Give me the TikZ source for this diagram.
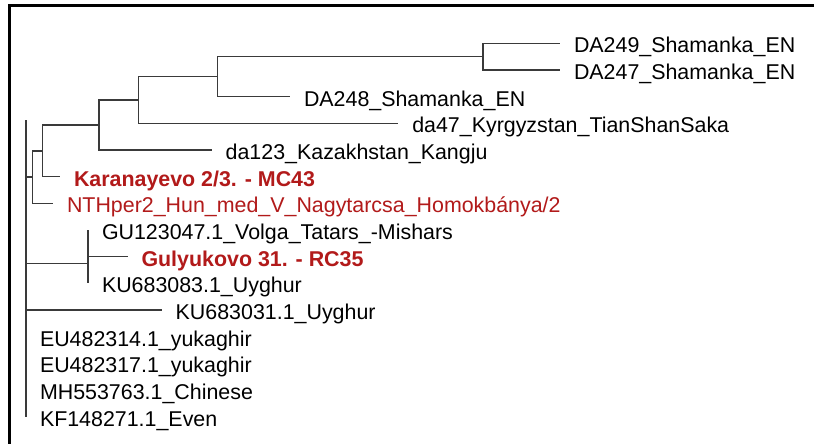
\documentclass[tikz,border=0pt]{standalone}
\usepackage{fontspec}
\setmainfont{Liberation Sans}
\definecolor{hred}{RGB}{178,26,26}
\definecolor{tline}{RGB}{58,58,58}
\begin{document}
\begin{tikzpicture}[x=1pt,y=-1pt,
  br/.style={draw=tline,line width=1.4pt},
  lab/.style={anchor=base west,inner sep=0pt,outer sep=0pt,font=\fontsize{21.4}{24}\selectfont,xshift=14pt,yshift=-9.4pt},
  hl/.style={lab,text=hred},
  hb/.style={lab,text=hred,font=\fontsize{21.4}{24}\selectfont\bfseries}]
\useasboundingbox (0,0) rectangle (814,444);
\fill[white] (0,0) rectangle (814,444);
\draw[line width=3.6pt,line join=miter] (9.5,444) -- (9.5,5.5) -- (814,5.5);
% leaf branch ends
\coordinate (e0) at (560,43.3);
\coordinate (e1) at (560,70);
\coordinate (e2) at (290,96.7);
\coordinate (e3) at (398.3,123.3);
\coordinate (e4) at (211.7,150);
\coordinate (e5) at (60,176.7);
\coordinate (e6) at (53,203.3);
\coordinate (e7) at (88,230);
\coordinate (e8) at (127.5,256.7);
\coordinate (e9) at (88,283.3);
\coordinate (e10) at (161.7,310);
\coordinate (e11) at (26,336.7);
\coordinate (e12) at (26,363.3);
\coordinate (e13) at (26,390);
\coordinate (e14) at (26,416.7);
% internal nodes
\coordinate (nS) at (483,56.7);
\coordinate (nD) at (217.3,76.7);
\coordinate (nK) at (138.3,100);
\coordinate (nC) at (99,125);
\coordinate (nM) at (42.7,150.8);
\coordinate (nA) at (32.3,177);
\coordinate (nP) at (88,263.3);
\coordinate (rtop) at (26,120);
% edges
\draw[br] (rtop) -- (e14);
\draw[br] (nS) |- (e0);
\draw[br] (nS) |- (e1);
\draw[br] (nD) |- (nS);
\draw[br] (nD) |- (e2);
\draw[br] (nK) |- (nD);
\draw[br] (nK) |- (e3);
\draw[br] (nC) |- (nK);
\draw[br] (nC) |- (e4);
\draw[br] (nM) |- (nC);
\draw[br] (nM) |- (e5);
\draw[br] (nA) |- (nM);
\draw[br] (nA) |- (e6);
\draw[br] (rtop |- nA) -- (nA);
\draw[br] (nP) |- (e7);
\draw[br] (nP) |- (e8);
\draw[br] (nP) |- (e9);
\draw[br] (rtop |- nP) -- (nP);
\draw[br] (rtop |- e10) -- (e10);
% labels
\node[lab] (t0) at (e0) {DA249\_Shamanka\_EN};
\node[lab] (t1) at (e1) {DA247\_Shamanka\_EN};
\node[lab] (t2) at (e2) {DA248\_Shamanka\_EN};
\node[lab] (t3) at (e3) {da47\_Kyrgyzstan\_TianShanSaka};
\node[lab] (t4) at (e4) {da123\_Kazakhstan\_Kangju};
\node[hb] (t5) at (e5) {Karanayevo 2/3. - MC43};
\node[hl] (t6) at (e6) {NTHper2\_Hun\_med\_V\_Nagytarcsa\_Homokbánya/2};
\node[lab] (t7) at (e7) {GU123047.1\_Volga\_Tatars\_-Mishars};
\node[hb] (t8) at (e8) {Gulyukovo 31. - RC35};
\node[lab] (t9) at (e9) {KU683083.1\_Uyghur};
\node[lab] (t10) at (e10) {KU683031.1\_Uyghur};
\node[lab] (t11) at (e11) {EU482314.1\_yukaghir};
\node[lab] (t12) at (e12) {EU482317.1\_yukaghir};
\node[lab] (t13) at (e13) {MH553763.1\_Chinese};
\node[lab] (t14) at (e14) {KF148271.1\_Even};
\end{tikzpicture}
\end{document}
